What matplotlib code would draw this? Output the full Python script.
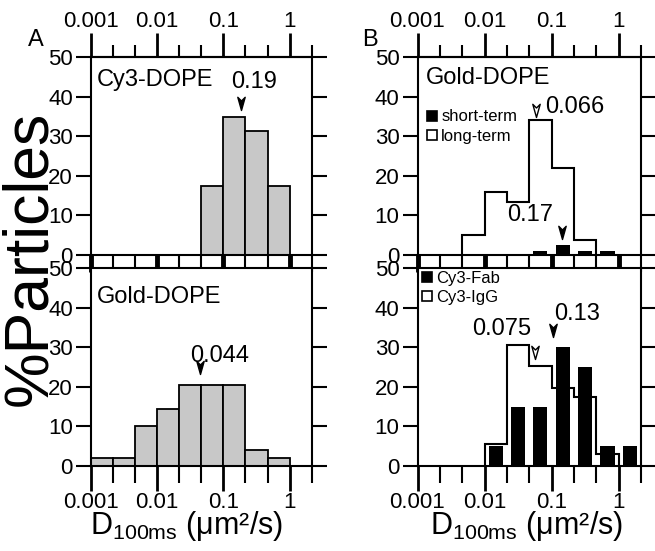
import numpy as np
import matplotlib
matplotlib.use('Agg')
import matplotlib.pyplot as plt
from matplotlib.path import Path
from matplotlib.lines import Line2D
from matplotlib.ticker import FixedLocator, NullFormatter

plt.rcParams['font.family'] = ['Liberation Sans', 'DejaVu Sans']
plt.rcParams['mathtext.fontset'] = 'custom'
plt.rcParams['mathtext.rm'] = 'Liberation Sans'

# bins are 1/3 decade wide, from 0.001 up to 10^(1/3)
edges = np.logspace(-3, 1/3, 11)

# % particles per bin
cy3_dope = [0, 0, 0, 0, 0, 17.4, 34.8, 31.3, 17.4, 0]
gold_dope_a = [2.0, 2.0, 10.2, 14.4, 20.5, 20.5, 20.5, 4.0, 2.0, 0]
long_term = [0, 0, 5.1, 15.9, 13.4, 34.0, 22.0, 3.8, 0, 0]
short_term = [0, 0, 0, 0, 0, 1.0, 2.4, 1.0, 1.0, 0]
cy3_fab = [0, 0, 0, 5, 15, 15, 30, 25, 5, 5]
cy3_igg = [0, 0, 0, 5.5, 30.6, 25.2, 19.7, 17.5, 3.0, 0]

# median arrows: (x, tip height, label)
med_cy3 = (0.185, 36.5, '0.19')
med_gold_a = (0.0443, 23.2, '0.044')
med_long = (0.058, 34.8, '0.066')
med_short = (0.143, 4.0, '0.17')
med_igg = (0.0565, 27.0, '0.075')
med_fab = (0.106, 32.5, '0.13')

major = [0.001, 0.01, 0.1, 1]
major_labels = ['0.001', '0.01', '0.1', '1']
minor = [10 ** (k / 3) for k in [-8, -7, -5, -4, -2, -1, 1]]

arrow = Path([(0, 0), (-0.28, 1), (0, 0.72), (0.28, 1), (0, 0)],
             [Path.MOVETO, Path.LINETO, Path.LINETO, Path.LINETO, Path.CLOSEPOLY])

fig = plt.figure(figsize=(6.55, 5.51), dpi=100)
W, H = 655, 551


def make_ax(x0, x1, y0, y1):
    return fig.add_axes([x0 / W, 1 - y1 / H, (x1 - x0) / W, (y1 - y0) / H])


def setup(ax, top_panel):
    ax.set_xscale('log')
    ax.set_xlim(1e-3, 10 ** (1 / 3))
    ax.set_ylim(0, 50)
    ax.set_yticks([0, 10, 20, 30, 40, 50])
    ax.tick_params(axis='y', direction='out', length=11, width=1.5,
                   left=True, right=True, labelsize=16, pad=2)
    ax.xaxis.set_major_locator(FixedLocator(major))
    ax.xaxis.set_minor_locator(FixedLocator(minor))
    ax.xaxis.set_minor_formatter(NullFormatter())
    for s in ax.spines.values():
        s.set_linewidth(1.5)
    if top_panel:
        ax.tick_params(axis='x', which='major', direction='out', bottom=True, top=False,
                       length=12, width=3.5, labelbottom=False)
        ax.tick_params(axis='x', which='minor', direction='out', bottom=True, top=False,
                       length=12, width=1.5)
        sec = ax.secondary_xaxis('top')
        sec.xaxis.set_major_locator(FixedLocator(major))
        sec.set_xticklabels(major_labels)
        sec.xaxis.set_minor_locator(FixedLocator(minor))
        sec.xaxis.set_minor_formatter(NullFormatter())
        sec.tick_params(which='major', length=17, width=2, labelsize=16, pad=1)
        sec.tick_params(which='minor', length=9, width=1.5)
        sec.spines['top'].set_linewidth(1.5)
    else:
        ax.xaxis.set_ticklabels(major_labels)
        ax.tick_params(axis='x', which='major', direction='out', length=18, width=2,
                       labelsize=16, pad=0.5)
        ax.tick_params(axis='x', which='minor', direction='out', length=12, width=1.5)


def gray_bars(ax, vals):
    vals = np.array(vals)
    m = vals > 0
    ax.bar(edges[:-1][m], vals[m], width=(edges[1:] - edges[:-1])[m], align='edge',
           color='#c8c8c8', edgecolor='k', linewidth=1.3, zorder=2)


def black_bars(ax, vals):
    vals = np.array(vals)
    m = vals > 0
    lc = np.log10(edges[:-1]) + 1 / 6
    left = 10 ** (lc - 0.105)
    right = 10 ** (lc + 0.105)
    ax.bar(left[m], vals[m], width=(right - left)[m], align='edge',
           color='k', linewidth=0, zorder=3)


def step_outline(ax, vals):
    vals = np.array(vals)
    nz = np.nonzero(vals)[0]
    i0, i1 = nz[0], nz[-1] + 1
    ax.stairs(vals[i0:i1], edges[i0:i1 + 1], fill=True, baseline=0,
              facecolor='white', edgecolor='k', linewidth=1.5, zorder=2)


def median_arrow(ax, med, filled, tx, ty):
    x, y, lab = med
    ax.plot([x], [y], marker=arrow, ms=19, ls='none', mfc='k' if filled else 'white',
            mec='k', mew=1.0, clip_on=False, zorder=5)
    ax.text(tx, ty, lab, fontsize=17, ha='center', va='center', zorder=6)


# Panel A
axA1 = make_ax(91, 311.7, 57, 255)
axA2 = make_ax(91, 311.7, 268, 466)
setup(axA1, True)
setup(axA2, False)

gray_bars(axA1, cy3_dope)
median_arrow(axA1, med_cy3, True, 0.29, 43.7)
axA1.text(0.027, 0.882, 'Cy3-DOPE', transform=axA1.transAxes, fontsize=17, va='center')

gray_bars(axA2, gold_dope_a)
median_arrow(axA2, med_gold_a, True, 0.089, 27.8)
axA2.text(0.027, 0.855, 'Gold-DOPE', transform=axA2.transAxes, fontsize=17, va='center')

# Panel B
axB1 = make_ax(417.5, 641, 57, 255)
axB2 = make_ax(417.5, 641, 268, 466)
setup(axB1, True)
setup(axB2, False)

step_outline(axB1, long_term)
black_bars(axB1, short_term)
median_arrow(axB1, med_long, False, 0.224, 37.3)
median_arrow(axB1, med_short, True, 0.0473, 10.2)
axB1.text(0.038, 0.896, 'Gold-DOPE', transform=axB1.transAxes, fontsize=17, va='center')
hB1 = [Line2D([], [], marker='s', ls='none', ms=7.5, mfc='k', mec='k', mew=1.2),
       Line2D([], [], marker='s', ls='none', ms=7.5, mfc='white', mec='k', mew=1.2)]
axB1.legend(hB1, ['short-term', 'long-term'], loc='upper left', bbox_to_anchor=(0.035, 0.735),
            frameon=False, fontsize=12, handlelength=0.8, handletextpad=0.15,
            labelspacing=0.25, borderpad=0, borderaxespad=0)

step_outline(axB2, cy3_igg)
black_bars(axB2, cy3_fab)
median_arrow(axB2, med_igg, False, 0.0181, 34.6)
median_arrow(axB2, med_fab, True, 0.242, 38.4)
hB2 = [Line2D([], [], marker='s', ls='none', ms=7.5, mfc='k', mec='k', mew=1.2),
       Line2D([], [], marker='s', ls='none', ms=7.5, mfc='white', mec='k', mew=1.2)]
axB2.legend(hB2, ['Cy3-Fab', 'Cy3-IgG'], loc='upper left', bbox_to_anchor=(0.013, 0.985),
            frameon=False, fontsize=12, handlelength=0.8, handletextpad=0.15,
            labelspacing=0.25, borderpad=0, borderaxespad=0)

# shared labels
fig.text(30 / W, 1 - 258 / H, '%Particles', rotation=90, fontsize=45, ha='center', va='center')
fig.text(36 / W, 1 - 40 / H, 'A', fontsize=17, ha='center', va='center')
fig.text(370 / W, 1 - 40 / H, 'B', fontsize=17, ha='center', va='center')
xlab = 'D$_{\\mathregular{100ms}}$ (μm²/s)'
fig.text(187 / W, 1 - 526 / H, xlab, fontsize=22, ha='center', va='center')
fig.text(527 / W, 1 - 526 / H, xlab, fontsize=22, ha='center', va='center')

fig.savefig('out.png', dpi=100)
